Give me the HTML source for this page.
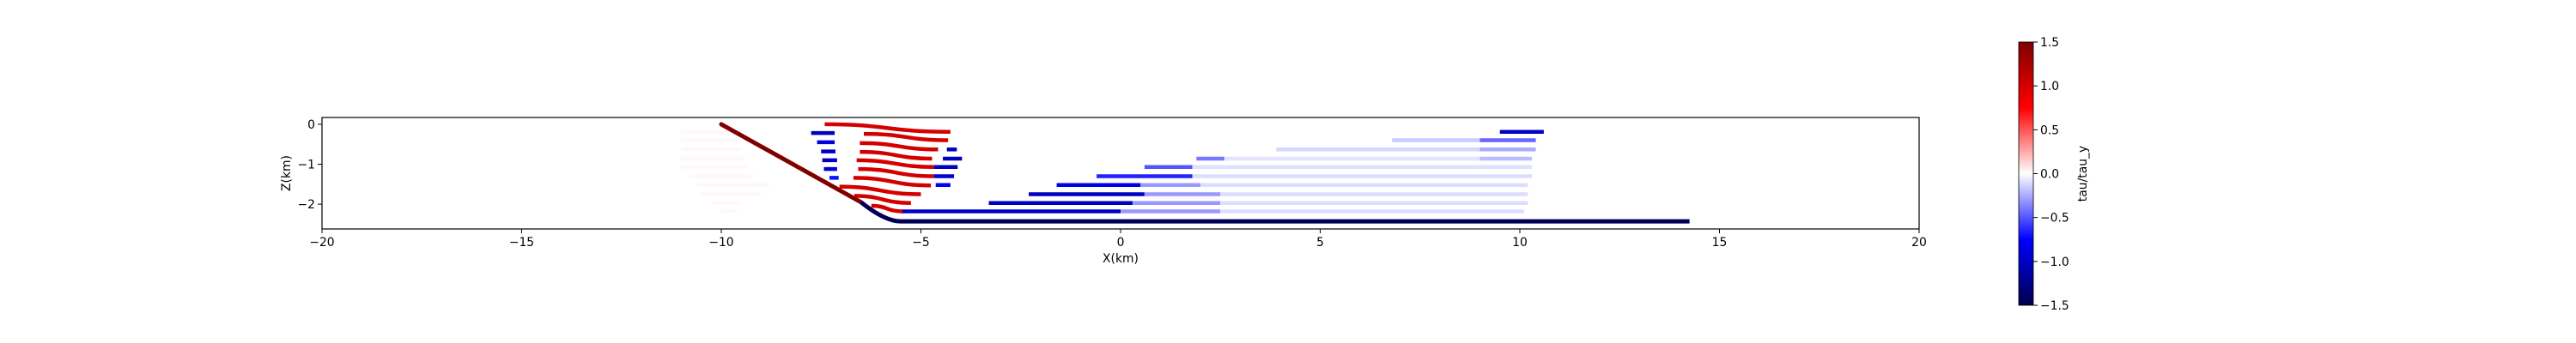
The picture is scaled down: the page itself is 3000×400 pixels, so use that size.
<!DOCTYPE html>
<html><head><meta charset="utf-8"><style>
html,body{margin:0;padding:0;background:#fff;}
svg{display:block;font-family:"DejaVu Sans","Liberation Sans",sans-serif;}
</style></head><body>
<svg id="fig" width="3000" height="400" viewBox="0 0 3000 400">
<rect width="3000" height="400" fill="#fff"/>
<g id="marks"></g>
<g id="axes"></g>
<g id="cbar"></g>
</svg>
<script>
// ---- data ----
const xTicks = [-20,-15,-10,-5,0,5,10,15,20];
const yTicks = [0,-1,-2];
const cbTicks = [1.5,1.0,0.5,0.0,-0.5,-1.0,-1.5];
// red (hanging-wall) curved rows: x start, x end, z left, z right, value
const redX0 = [-7.41,-6.43,-6.53,-6.53,-6.61,-6.57,-6.69,-7.04,-6.67,-6.24];
const redX1 = [-4.26,-4.32,-4.57,-4.72,-4.67,-4.67,-4.75,-5.00,-5.25,-5.46];
const redZ0 = [0.0,-0.24,-0.47,-0.69,-0.90,-1.12,-1.34,-1.56,-1.79,-2.04];
const redZ1 = [-0.19,-0.40,-0.63,-0.86,-1.07,-1.30,-1.53,-1.75,-1.97,-2.18];
const redVal = [1.0,1.0,1.0,1.0,1.0,1.0,1.0,1.0,1.0,1.0];
// small blue blocks left of red rows
const blX0 = [-7.75,-7.60,-7.50,-7.47,-7.43,-7.29];
const blX1 = [-7.16,-7.16,-7.14,-7.10,-7.10,-7.06];
const blZ  = [-0.22,-0.45,-0.68,-0.90,-1.12,-1.34];
const blVal= [-1.0,-0.9,-1.0,-1.0,-0.9,-0.7];
// small blue blocks right of red rows
const brX0 = [-4.35,-4.45,-4.67,-4.67,-4.63];
const brX1 = [-4.10,-3.97,-4.08,-4.17,-4.26];
const brZ  = [-0.63,-0.86,-1.07,-1.30,-1.52];
const brVal= [-1.0,-1.0,-1.0,-0.9,-0.8];
// long footwall rows: z and segments [x0,x1,value]
const rowZ = [-0.19,-0.40,-0.63,-0.86,-1.07,-1.30,-1.52,-1.75,-1.97,-2.18];
const rowSeg = [
 [[9.5,10.6,-1.0]],
 [[6.8,9.0,-0.15],[9.0,10.4,-0.45]],
 [[3.9,9.0,-0.12],[9.0,10.4,-0.25]],
 [[1.9,2.6,-0.4],[2.6,9.0,-0.08],[9.0,10.3,-0.2]],
 [[0.6,1.8,-0.5],[1.8,10.3,-0.09]],
 [[-0.6,1.8,-0.65],[1.8,10.3,-0.1]],
 [[-1.6,0.5,-0.85],[0.5,2.0,-0.3],[2.0,10.2,-0.1]],
 [[-2.3,0.6,-1.0],[0.6,2.5,-0.3],[2.5,10.2,-0.1]],
 [[-3.3,0.3,-1.0],[0.3,2.5,-0.3],[2.5,10.2,-0.1]],
 [[-5.5,0.0,-1.0],[0.0,2.5,-0.3],[2.5,10.1,-0.1]]
];
// faint left rows
const faintZ = [-0.19,-0.40,-0.63,-0.86,-1.07,-1.30,-1.52,-1.75,-1.97,-2.18];
const faintX0 = [-11.0,-11.0,-11.0,-11.0,-11.0,-10.8,-10.6,-10.5,-10.2,-10.0];
const faintX1 = [-9.5,-9.5,-9.5,-9.4,-9.3,-9.2,-8.8,-9.0,-9.5,-9.6];
// fault trace points (x,z) and values
const faultUpX = [-10.0,-6.5];
const faultUpZ = [0.0,-1.95];
const faultLoX = [-6.5,-5.9,-5.5,14.25];
const faultLoZ = [-1.95,-2.32,-2.43,-2.43];
const faultUpVal = 1.5;
const faultLoVal = -1.45;

// ---- scales ----
const X0=375, X1=2235, XMIN=-20, XMAX=20;
const ZTOP=0.17, ZBOT=-2.62, PY0=137, PY1=267;
const sx = x => X0 + (x-XMIN)/(XMAX-XMIN)*(X1-X0);
const sy = z => PY0 + (ZTOP-z)/(ZTOP-ZBOT)*(PY1-PY0);
function seismic(v){
  let t=(v+1.5)/3; t=Math.max(0,Math.min(1,t));
  const st=[[0,0,0,0.3],[0.25,0,0,1],[0.5,1,1,1],[0.75,1,0,0],[1,0.5,0,0]];
  for(let i=0;i<4;i++){const a=st[i],b=st[i+1];
    if(t<=b[0]){const f=(t-a[0])/(b[0]-a[0]);
      const c=[1,2,3].map(k=>Math.round(255*(a[k]+(b[k]-a[k])*f)));
      return `rgb(${c[0]},${c[1]},${c[2]})`;}}
  return 'rgb(128,0,0)';
}
const NS='http://www.w3.org/2000/svg';
function mk(tag,attrs,parent){const e=document.createElementNS(NS,tag);for(const k in attrs)e.setAttribute(k,attrs[k]);parent.appendChild(e);return e;}
const marks=document.getElementById('marks');
const axes=document.getElementById('axes');
const cbar=document.getElementById('cbar');
const SW=4.5;

for(let i=0;i<faintZ.length;i++){
  const l=mk('line',{x1:sx(faintX0[i]),x2:sx(faintX1[i]),y1:sy(faintZ[i]),y2:sy(faintZ[i]),stroke:seismic(0.02),'stroke-width':SW},marks);
  
  
}
for(let i=0;i<rowZ.length;i++){
  for(const s of rowSeg[i]){
    const l=mk('line',{x1:sx(s[0]),x2:sx(s[1]),y1:sy(rowZ[i]),y2:sy(rowZ[i]),stroke:seismic(s[2]),'stroke-width':SW},marks);
    
    
  }
}
for(let i=0;i<redX0.length;i++){
  const a=sx(redX0[i]),b=sx(redX1[i]),ya=sy(redZ0[i]),yb=sy(redZ1[i]),m=(a+b)/2;
  const p=mk('path',{d:`M${a},${ya} C${m},${ya} ${m},${yb} ${b},${yb}`,fill:'none',stroke:seismic(redVal[i]),'stroke-width':SW},marks);
  
  
}
for(let i=0;i<blX0.length;i++){
  const l=mk('line',{x1:sx(blX0[i]),x2:sx(blX1[i]),y1:sy(blZ[i]),y2:sy(blZ[i]),stroke:seismic(blVal[i]),'stroke-width':SW},marks);
  
  
}
for(let i=0;i<brX0.length;i++){
  const l=mk('line',{x1:sx(brX0[i]),x2:sx(brX1[i]),y1:sy(brZ[i]),y2:sy(brZ[i]),stroke:seismic(brVal[i]),'stroke-width':SW},marks);
  
  
}
{
  let d='M'+faultUpX.map((x,i)=>sx(x)+','+sy(faultUpZ[i])).join(' L');
  const p=mk('path',{d,fill:'none',stroke:seismic(faultUpVal),'stroke-width':5,'stroke-linecap':'round'},marks);
  
  
  const q=`M${sx(faultLoX[0])},${sy(faultLoZ[0])} Q${sx(faultLoX[1])},${sy(faultLoZ[2])} ${sx(faultLoX[2])},${sy(faultLoZ[2])} L${sx(faultLoX[3])},${sy(faultLoZ[3])}`;
  const p2=mk('path',{d:q,fill:'none',stroke:seismic(faultLoVal),'stroke-width':5},marks);
  
  
}
const fr=mk('rect',{x:X0,y:PY0,width:X1-X0,height:PY1-PY0,fill:'none',stroke:'#000','stroke-width':1.2},axes);


for(const t of xTicks){
  const x=sx(t);
  mk('line',{x1:x,x2:x,y1:PY1,y2:PY1+5,stroke:'#000','stroke-width':1},axes);
  const tx=mk('text',{x:x,y:PY1+20,'font-size':13.9,'text-anchor':'middle',fill:'#000'},axes);
  tx.textContent=(t<0?'\u2212'+(-t):String(t));
  
  
}
for(const t of yTicks){
  const y=sy(t);
  mk('line',{x1:X0-5,x2:X0,y1:y,y2:y,stroke:'#000','stroke-width':1},axes);
  const tx=mk('text',{x:X0-8,y:y+5,'font-size':13.9,'text-anchor':'end',fill:'#000'},axes);
  tx.textContent=(t<0?'\u2212'+(-t):String(t));
  
  
}
const xl=mk('text',{x:(X0+X1)/2,y:306,'font-size':13.9,'text-anchor':'middle'},axes);
xl.textContent='X(km)';


const yl=mk('text',{x:0,y:0,'font-size':13.9,'text-anchor':'middle',transform:`translate(338,${(PY0+PY1)/2}) rotate(-90)`},axes);
yl.textContent='Z(km)';



const CX=2351, CW=17, CT=49, CB=356;
const defs=mk('defs',{},cbar);
const g=mk('linearGradient',{id:'cg',x1:0,y1:1,x2:0,y2:0},defs);
for(let i=0;i<=20;i++){const v=-1.5+3*i/20;mk('stop',{offset:i/20,'stop-color':seismic(v)},g);}
const cr=mk('rect',{x:CX,y:CT,width:CW,height:CB-CT,fill:'url(#cg)',stroke:'#000','stroke-width':0.8},cbar);


for(const t of cbTicks){
  const y=CB-(t+1.5)/3*(CB-CT);
  mk('line',{x1:CX+CW,x2:CX+CW+5,y1:y,y2:y,stroke:'#000','stroke-width':1},cbar);
  const tx=mk('text',{x:CX+CW+8,y:y+5,'font-size':13.9,fill:'#000'},cbar);
  tx.textContent=(t<0?'\u2212'+(-t).toFixed(1):t.toFixed(1));
  
  
}
const cl=mk('text',{x:0,y:0,'font-size':13.9,'text-anchor':'middle',transform:`translate(2430,${(CT+CB)/2}) rotate(-90)`},cbar);
cl.textContent='tau/tau_y';


</script>
</body></html>
